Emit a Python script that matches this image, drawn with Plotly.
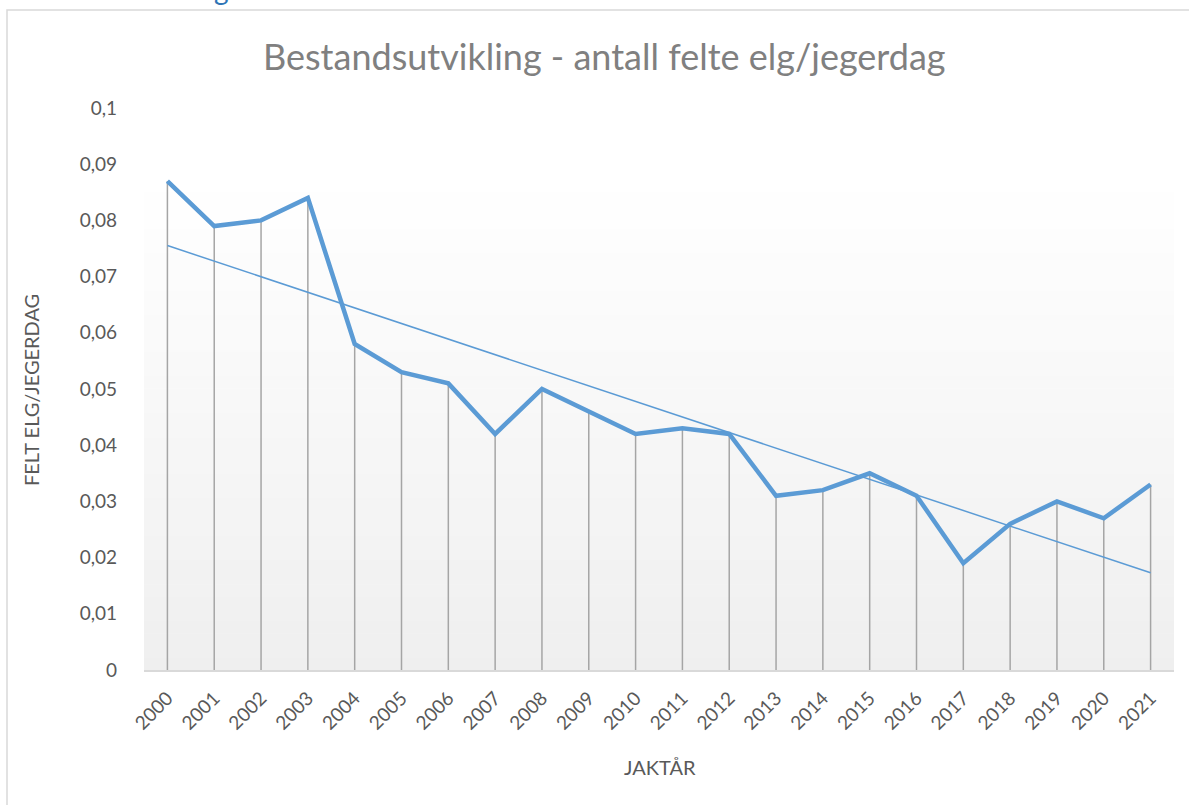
import numpy as np
import plotly.graph_objects as go

years = [str(y) for y in range(2000, 2022)]
values = [0.087, 0.079, 0.080, 0.084, 0.058, 0.053, 0.051, 0.042, 0.050, 0.046, 0.042,
          0.043, 0.042, 0.031, 0.032, 0.035, 0.031, 0.019, 0.026, 0.030, 0.027, 0.033]
y_tick_vals = [0, 0.01, 0.02, 0.03, 0.04, 0.05, 0.06, 0.07, 0.08, 0.09, 0.1]
y_tick_text = ["0", "0,01", "0,02", "0,03", "0,04", "0,05", "0,06", "0,07", "0,08", "0,09", "0,1"]
title_text = "Bestandsutvikling - antall felte elg/jegerdag"
x_title = "JAKTÅR"
y_title = "FELT ELG/JEGERDAG"

FONT = "Lato"
W, H = 1189, 805
ML, MR, MT, MB = 144, 15, 108, 135
PW = W - ML - MR
PH = H - MT - MB

# linear trendline from data
idx = np.arange(len(values))
slope, intercept = np.polyfit(idx, values, 1)
trend = slope * idx + intercept

# drop lines
dx, dy = [], []
for c, v in zip(years, values):
    dx += [c, c, None]
    dy += [0, v, None]


def px2x(px):
    return (px - ML) / PW


def px2y(py):
    return (H - MB - py) / PH


fig = go.Figure()

# gradient background bands
shapes = []
g_top_px = 180
n = 40
for i in range(n):
    t0 = i / n
    t1 = (i + 1) / n
    py0 = g_top_px + (670 - g_top_px) * t0
    py1 = g_top_px + (670 - g_top_px) * t1 + 0.5
    c = int(round(255 - (255 - 239) * (t0 + t1) / 2))
    shapes.append(dict(type="rect", xref="paper", yref="paper", x0=0, x1=1,
                       y0=px2y(py1) if py1 < 670 else 0,
                       y1=px2y(py0),
                       fillcolor=f"rgb({c},{c},{c})", line=dict(width=0), layer="below"))

# outer border
shapes.append(dict(type="rect", xref="paper", yref="paper",
                   x0=px2x(7), x1=px2x(1200), y0=px2y(820), y1=px2y(10),
                   line=dict(color="#d9d9d9", width=1.5), fillcolor="rgba(0,0,0,0)", layer="below"))

fig.add_trace(go.Scatter(x=dx, y=dy, mode="lines", line=dict(color="#a5a5a5", width=1.5),
                         hoverinfo="skip", showlegend=False))
fig.add_trace(go.Scatter(x=years, y=trend, mode="lines", line=dict(color="#5b9bd5", width=1.5),
                         showlegend=False))
fig.add_trace(go.Scatter(x=years, y=values, mode="lines", line=dict(color="#5b9bd5", width=4.5),
                         showlegend=False))

fig.update_layout(
    width=W, height=H,
    margin=dict(l=ML, r=MR, t=MT, b=MB, autoexpand=False),
    paper_bgcolor="white", plot_bgcolor="rgba(0,0,0,0)",
    shapes=shapes,
    font=dict(family=FONT, color="#595959"),
    showlegend=False,
    annotations=[
        dict(text=title_text, xref="paper", yref="paper", x=px2x(604), y=px2y(56),
             xanchor="center", yanchor="middle", showarrow=False,
             font=dict(family=FONT, size=36, color="#808080")),
        dict(text=x_title, xref="paper", yref="paper", x=px2x(660), y=px2y(767),
             xanchor="center", yanchor="middle", showarrow=False,
             font=dict(family=FONT, size=20, color="#595959")),
        dict(text=y_title, xref="paper", yref="paper", x=px2x(31), y=px2y(390),
             xanchor="center", yanchor="middle", showarrow=False, textangle=-90,
             font=dict(family=FONT, size=20, color="#595959")),
        dict(text="g", xref="paper", yref="paper", x=px2x(221), y=px2y(-11),
             xanchor="center", yanchor="middle", showarrow=False,
             font=dict(family=FONT, size=28, color="#2e75b6")),
    ],
)
fig.update_xaxes(type="category", range=[-0.5, len(years) - 0.5], tickangle=-45,
                 showgrid=False, showline=True, linecolor="#d9d9d9", linewidth=1.5,
                 ticks="", tickfont=dict(family=FONT, size=19, color="#595959"),
                 ticklabelstandoff=8, zeroline=False)
fig.update_yaxes(range=[0, 0.1], tickvals=y_tick_vals, ticktext=y_tick_text,
                 showgrid=False, showline=False, zeroline=False, ticks="",
                 ticklabelstandoff=26,
                 tickfont=dict(family=FONT, size=19, color="#595959"))

fig.write_html("out.html", config={"displayModeBar": False},
               post_script="document.body.style.margin='0px';")
